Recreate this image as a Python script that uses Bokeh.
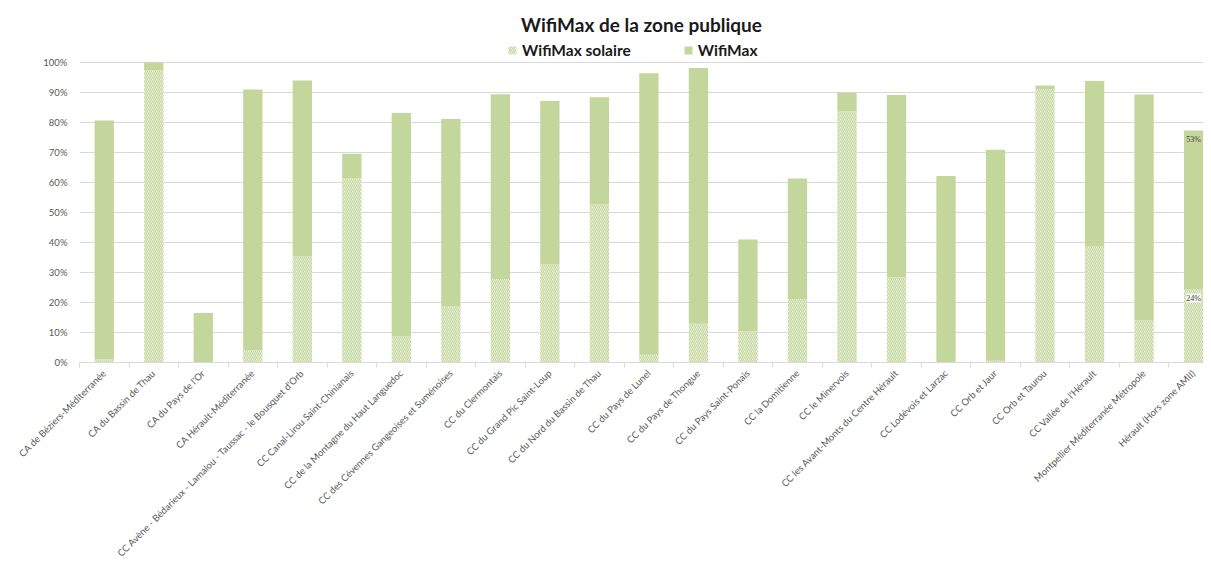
from math import pi
from bokeh.plotting import figure
from bokeh.models import (ColumnDataSource, Range1d, FixedTicker, NumeralTickFormatter,
                          Legend, LegendItem, LabelSet)
from bokeh.embed import file_html
from bokeh.resources import INLINE

categories = [
    "CA de Béziers-Méditerranée",
    "CA du Bassin de Thau",
    "CA du Pays de l'Or",
    "CA Hérault-Méditerranée",
    "CC Avène - Bédarieux - Lamalou - Taussac - le Bousquet d'Orb",
    "CC Canal-Lirou Saint-Chinianais",
    "CC de la Montagne du Haut Languedoc",
    "CC des Cévennes Gangeoises et Suménoises",
    "CC du Clermontais",
    "CC du Grand Pic Saint-Loup",
    "CC du Nord du Bassin de Thau",
    "CC du Pays de Lunel",
    "CC du Pays de Thongue",
    "CC du Pays Saint-Ponais",
    "CC la Domitienne",
    "CC le Minervois",
    "CC les Avant-Monts du Centre Hérault",
    "CC Lodévois et Larzac",
    "CC Orb et Jaur",
    "CC Orb et Taurou",
    "CC Vallée de l'Hérault",
    "Montpellier Méditerranée Métropole",
    "Hérault (Hors zone AMII)",
]

# share of premises (fraction) - "WifiMax solaire" and "WifiMax"
wifimax_solaire = [0.010, 0.973, 0.000, 0.040, 0.353, 0.614, 0.087, 0.188, 0.278, 0.328,
                   0.527, 0.026, 0.129, 0.103, 0.212, 0.837, 0.283, 0.000, 0.006, 0.912,
                   0.388, 0.142, 0.243]
wifimax = [0.797, 0.027, 0.165, 0.870, 0.587, 0.082, 0.745, 0.624, 0.616, 0.544,
           0.357, 0.938, 0.853, 0.307, 0.401, 0.062, 0.609, 0.622, 0.703, 0.011,
           0.550, 0.751, 0.530]

label_texts = ["24%", "53%"]

GREEN = "#c3d69b"
GRID = "#d9d9d9"
TXT = "#595959"
FONT = "Lato"

xs = list(range(len(categories)))
tops = [s + w for s, w in zip(wifimax_solaire, wifimax)]
src = ColumnDataSource(dict(x=xs, sol=wifimax_solaire, top=tops,
                            zero=[0.0] * len(xs)))

# frame extends a little above 100% to host the legend (as in the reference)
p = figure(frame_width=1124, frame_height=322, output_backend="svg", toolbar_location=None,
           x_range=Range1d(-0.5, 22.2), y_range=Range1d(0, 1.0733),
           min_border_left=79, min_border_right=0, min_border_top=40, min_border_bottom=0,
           title="WifiMax de la zone publique")
p.outline_line_color = None
p.background_fill_color = "white"

p.title.align = "center"
p.title.text_font = FONT
p.title.text_font_size = "19px"
p.title.text_font_style = "bold"
p.title.text_color = "#1a1a1a"

r_sol = p.vbar(x="x", bottom="zero", top="sol", width=0.39, source=src,
               fill_color="white", line_color=None,
               hatch_pattern="\\", hatch_color=GREEN, hatch_weight=1.3, hatch_scale=4)
r_w = p.vbar(x="x", bottom="sol", top="top", width=0.39, source=src,
             fill_color=GREEN, line_color=None)

# axes
p.yaxis.ticker = FixedTicker(ticks=[i / 10 for i in range(11)])
p.yaxis.formatter = NumeralTickFormatter(format="0%")
p.yaxis.axis_line_color = None
p.yaxis.major_tick_line_color = None
p.yaxis.minor_tick_line_color = None
p.yaxis.major_label_text_font = FONT
p.yaxis.major_label_text_font_size = "9.5px"
p.yaxis.major_label_text_color = TXT
p.yaxis.major_label_standoff = 6

p.xaxis.ticker = FixedTicker(ticks=xs, minor_ticks=[i - 0.5 for i in range(len(xs) + 1)])
p.xaxis.major_label_overrides = {i: c for i, c in enumerate(categories)}
p.xaxis.major_label_orientation = pi / 4
p.xaxis.major_tick_line_color = None
p.xaxis.minor_tick_line_color = GRID
p.xaxis.minor_tick_out = 5
p.xaxis.minor_tick_in = 0
p.xaxis.axis_line_color = GRID
p.xaxis.major_label_text_font = FONT
p.xaxis.major_label_text_font_size = "9.5px"
p.xaxis.major_label_text_color = TXT
p.xaxis.major_label_standoff = 3

p.xgrid.grid_line_color = None
p.ygrid.grid_line_color = GRID
p.ygrid.grid_line_width = 1

# data labels on the last bar
last = len(xs) - 1
lab_src = ColumnDataSource(dict(x=[last, last],
                                y=[wifimax_solaire[last], tops[last]],
                                t=label_texts,
                                bg=["white", GREEN]))
labels = LabelSet(x="x", y="y", text="t", source=lab_src, text_align="center",
                  text_baseline="top", y_offset=-4, text_font_size="8px",
                  text_color="#404040", text_font=FONT,
                  background_fill_color="bg", background_fill_alpha=0.85)
p.add_layout(labels)

legend = Legend(items=[LegendItem(label="WifiMax solaire", renderers=[r_sol]),
                       LegendItem(label="WifiMax", renderers=[r_w])],
                orientation="horizontal", location=(428, 303),
                label_text_font=FONT, label_text_font_size="15.5px",
                label_text_font_style="bold", label_text_color="#1a1a1a",
                glyph_width=10, glyph_height=10, spacing=52, label_standoff=5,
                border_line_color=None, background_fill_alpha=0,
                padding=0, margin=0)
p.add_layout(legend, "center")

open("out.html", "w").write(file_html(p, INLINE))
